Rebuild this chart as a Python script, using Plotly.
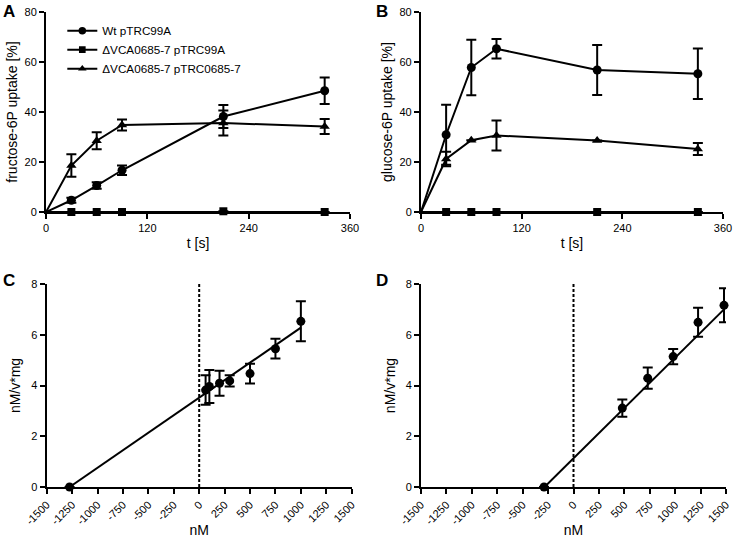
import plotly.graph_objects as go

# ---------------- data ----------------
t = [0, 30, 60, 90, 210, 330]

# Panel A: fructose-6P uptake [%]
a_wt = [0, 4.7, 10.6, 16.7, 38.2, 48.5]
a_wt_err = [None, 1.0, 1.3, 1.9, 4.6, 5.3]
a_del = [0, 0, 0, 0, 0.3, 0]
a_del_err = [None, None, None, None, None, None]
a_comp = [0, 18.6, 28.5, 34.8, 35.6, 34.2]
a_comp_err = [None, 4.5, 3.4, 2.2, 5.0, 3.0]

# Panel B: glucose-6P uptake [%]
b_wt = [0, 30.9, 57.8, 65.3, 56.8, 55.3]
b_wt_err = [None, 12.0, 11.1, 3.9, 10.0, 10.1]
b_del = [0, 0, 0, 0, 0, 0]
b_del_err = [None, None, None, None, None, None]
b_comp = [0, 21.2, 28.7, 30.6, 28.6, 25.2]
b_comp_err = [None, 2.9, None, 6.0, None, 2.4]

series_names = ["Wt pTRC99A", "\u0394VCA0685-7 pTRC99A", "\u0394VCA0685-7 pTRC0685-7"]

# Panel C: Hanes plot
c_x = [-1275, 63, 100, 200, 300, 500, 750, 1000]
c_y = [0, 3.82, 3.96, 4.09, 4.18, 4.47, 5.45, 6.53]
c_err = [None, 0.58, 0.65, 0.49, 0.22, 0.39, 0.39, 0.79]
c_fit_x = [-1275, 1000]
c_fit_y = [0, 6.28]

# Panel D: Hanes plot
d_x = [-290, 480, 730, 980, 1225, 1480]
d_y = [0, 3.11, 4.29, 5.14, 6.49, 7.16]
d_err = [None, 0.34, 0.42, 0.30, 0.57, 0.67]
d_fit_x = [-285, 1480]
d_fit_y = [0, 7.0]

zero_line_x = [0, 0]
zero_line_y = [0, 8]

x_ticks_time = [0, 120, 240, 360]
x_ticks_nm = [-1500, -1250, -1000, -750, -500, -250, 0, 250, 500, 750, 1000, 1250, 1500]
x_ticktext_nm = [str(v) for v in x_ticks_nm]

# ---------------- figure ----------------
FONT = "Liberation Sans, Arial, sans-serif"
fig = go.Figure()

symbols = ["circle", "square", "triangle-up"]
msize = [9, 8, 9]


def add_time_series(ys, errs, name, sym, size, xa, ya, showlegend):
    sizes = [0] + [size] * (len(ys) - 1)
    fig.add_trace(go.Scatter(
        x=t, y=ys, name=name, mode="lines+markers",
        line=dict(color="black", width=2),
        marker=dict(symbol=sym, size=sizes, color="black", opacity=1, line=dict(width=0)),
        error_y=dict(type="data", array=errs, visible=True, color="black", thickness=2, width=5),
        xaxis=xa, yaxis=ya, showlegend=showlegend, cliponaxis=False,
    ))


for ys, es, nm, sy, sz in zip([a_wt, a_del, a_comp], [a_wt_err, a_del_err, a_comp_err],
                              series_names, symbols, msize):
    add_time_series(ys, es, nm, sy, sz, "x", "y", True)
for ys, es, nm, sy, sz in zip([b_wt, b_del, b_comp], [b_wt_err, b_del_err, b_comp_err],
                              series_names, symbols, msize):
    add_time_series(ys, es, nm, sy, sz, "x2", "y2", False)

# Panel C
fig.add_trace(go.Scatter(x=zero_line_x, y=zero_line_y, mode="lines",
                         line=dict(color="black", width=2, dash="3px,2px"),
                         xaxis="x3", yaxis="y3", showlegend=False))
fig.add_trace(go.Scatter(x=c_fit_x, y=c_fit_y, mode="lines", line=dict(color="black", width=2),
                         xaxis="x3", yaxis="y3", showlegend=False))
fig.add_trace(go.Scatter(x=c_x, y=c_y, mode="markers",
                         marker=dict(symbol="circle", size=9, color="black", opacity=1, line=dict(width=0)),
                         error_y=dict(type="data", array=c_err, visible=True, color="black", thickness=2, width=5),
                         xaxis="x3", yaxis="y3", showlegend=False, cliponaxis=False))
# Panel D
fig.add_trace(go.Scatter(x=zero_line_x, y=zero_line_y, mode="lines",
                         line=dict(color="black", width=2, dash="3px,2px"),
                         xaxis="x4", yaxis="y4", showlegend=False))
fig.add_trace(go.Scatter(x=d_fit_x, y=d_fit_y, mode="lines", line=dict(color="black", width=2),
                         xaxis="x4", yaxis="y4", showlegend=False))
fig.add_trace(go.Scatter(x=d_x, y=d_y, mode="markers",
                         marker=dict(symbol="circle", size=9, color="black", opacity=1, line=dict(width=0)),
                         error_y=dict(type="data", array=d_err, visible=True, color="black", thickness=2, width=5),
                         xaxis="x4", yaxis="y4", showlegend=False, cliponaxis=False))

axis_common = dict(showline=True, linecolor="black", linewidth=2, ticks="outside", ticklen=5,
                   tickwidth=2, tickcolor="black", showgrid=False, zeroline=False, automargin=False,
                   tickfont=dict(size=11, color="black", family=FONT),
                   title_font=dict(size=14, color="black", family=FONT))

top_y = [0.6059, 0.9777]
bot_y = [0.0948, 0.4721]

fig.update_layout(
    template="none",
    width=733, height=538,
    margin=dict(l=0, r=0, t=0, b=0),
    paper_bgcolor="white", plot_bgcolor="white",
    font=dict(family=FONT, color="black"),
    xaxis=dict(domain=[0.0628, 0.4775], range=[0, 360], tickvals=x_ticks_time, anchor="y",
               title=dict(text="t [s]", standoff=5), **axis_common),
    yaxis=dict(domain=top_y, range=[0, 80], dtick=20, anchor="x",
               title=dict(text="fructose-6P uptake [%]", standoff=4), **axis_common),
    xaxis2=dict(domain=[0.5743, 0.9864], range=[0, 360], tickvals=x_ticks_time, anchor="y2",
                title=dict(text="t [s]", standoff=5), **axis_common),
    yaxis2=dict(domain=top_y, range=[0, 80], dtick=20, anchor="x2",
                title=dict(text="glucose-6P uptake [%]", standoff=4), **axis_common),
    xaxis3=dict(domain=[0.0637, 0.4798], range=[-1500, 1500], tickvals=x_ticks_nm,
                ticktext=x_ticktext_nm, tickangle=-45,
                anchor="y3", title=dict(text="nM", standoff=8), **axis_common),
    yaxis3=dict(domain=bot_y, range=[0, 8], dtick=2, anchor="x3",
                title=dict(text="nM/v*mg", standoff=7), **axis_common),
    xaxis4=dict(domain=[0.5743, 0.9905], range=[-1500, 1500], tickvals=x_ticks_nm,
                ticktext=x_ticktext_nm, tickangle=-45,
                anchor="y4", title=dict(text="nM", standoff=8), **axis_common),
    yaxis4=dict(domain=bot_y, range=[0, 8], dtick=2, anchor="x4",
                title=dict(text="nM/v*mg", standoff=7), **axis_common),
    legend=dict(x=0.085, y=0.97, xanchor="left", yanchor="top", bgcolor="rgba(0,0,0,0)",
                font=dict(size=11.7, color="black", family=FONT), itemwidth=30),
    annotations=[
        dict(text="<b>A</b>", x=0.002, y=1.0, xref="paper", yref="paper", xanchor="left", yanchor="top",
             showarrow=False, font=dict(size=17, family=FONT, color="black")),
        dict(text="<b>B</b>", x=0.51, y=1.0, xref="paper", yref="paper", xanchor="left", yanchor="top",
             showarrow=False, font=dict(size=17, family=FONT, color="black")),
        dict(text="<b>C</b>", x=0.002, y=0.5, xref="paper", yref="paper", xanchor="left", yanchor="top",
             showarrow=False, font=dict(size=17, family=FONT, color="black")),
        dict(text="<b>D</b>", x=0.51, y=0.5, xref="paper", yref="paper", xanchor="left", yanchor="top",
             showarrow=False, font=dict(size=17, family=FONT, color="black")),
    ],
)

fig.write_html("out.html", config={"displayModeBar": False},
               post_script="document.body.style.margin='0';")
